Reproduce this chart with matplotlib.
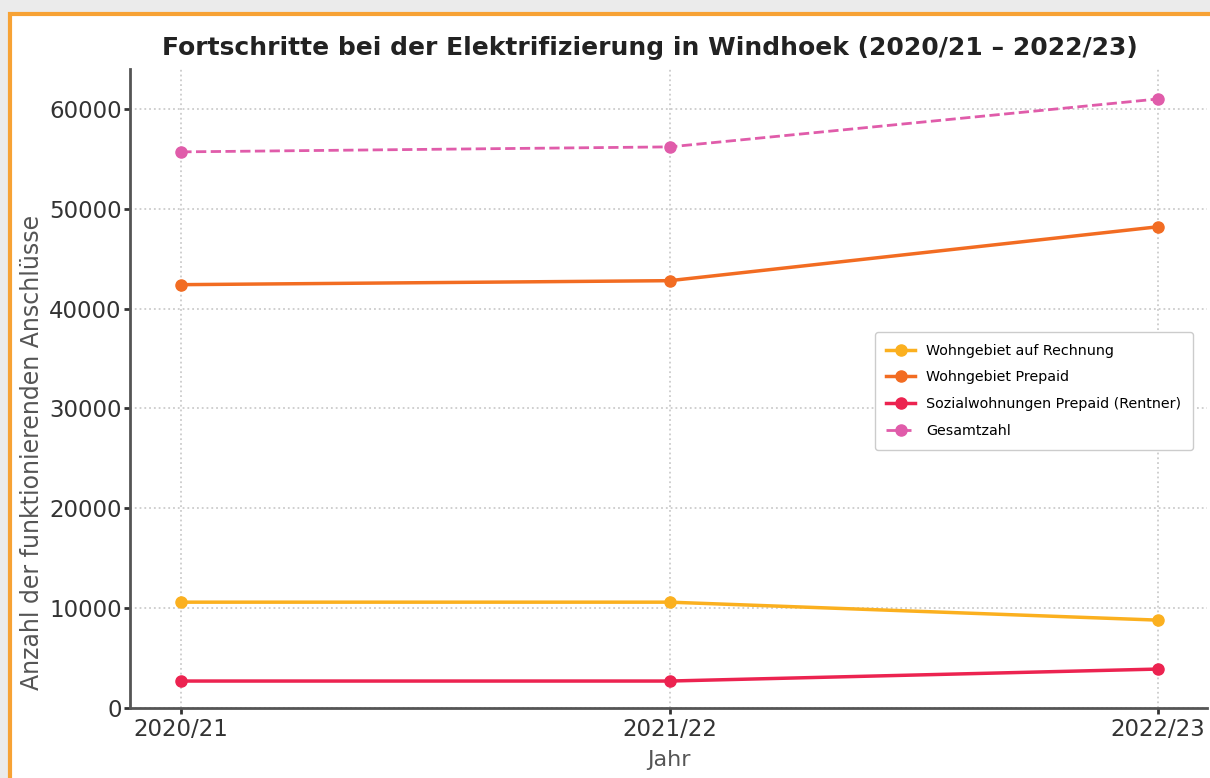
import matplotlib.pyplot as plt
from matplotlib.patches import Rectangle

jahre = ['2020/21', '2021/22', '2022/23']
rechnung = [10600, 10600, 8800]
prepaid = [42400, 42800, 48200]
sozial = [2700, 2700, 3900]
gesamt = [55700, 56200, 61000]

fig = plt.figure(figsize=(12.1, 7.78), dpi=100)
fig.patch.set_facecolor('#ebebeb')
# orange frame of the screenshot
fig.patches.append(Rectangle((10/1210, -0.1), 1.2, 1.1 - 14/778, transform=fig.transFigure,
                             facecolor='white', edgecolor='#f7a234', linewidth=3, zorder=-5))

ax = fig.add_axes([130/1210, 70/778, 1077/1210, 639/778])
ax.set_facecolor('white')

x = range(len(jahre))
ax.plot(x, rechnung, color='#fbb01f', marker='o', lw=2.5, ms=8, label='Wohngebiet auf Rechnung')
ax.plot(x, prepaid, color='#f26c22', marker='o', lw=2.5, ms=8, label='Wohngebiet Prepaid')
ax.plot(x, sozial, color='#ec2350', marker='o', lw=2.5, ms=8, label='Sozialwohnungen Prepaid (Rentner)')
ax.plot(x, gesamt, color='#e05caa', marker='o', lw=2, ms=8, ls='--', label='Gesamtzahl')

ax.set_xticks(list(x))
ax.set_xticklabels(jahre)
ax.set_xlim(-0.105, 2.1)
ax.set_ylim(0, 64000)
ax.set_yticks([0, 10000, 20000, 30000, 40000, 50000, 60000])
ax.tick_params(labelsize=16.5, colors='#333333', length=4, width=2)
ax.tick_params(axis='y', pad=2)
ax.grid(True, ls=':', color='#cccccc', lw=1.3)
for s in ['top', 'right']:
    ax.spines[s].set_visible(False)
for s in ['left', 'bottom']:
    ax.spines[s].set_color('#555555')
    ax.spines[s].set_linewidth(2)

ax.set_xlabel('Jahr', fontsize=16, color='#555555', labelpad=6)
ax.set_ylabel('Anzahl der funktionierenden Anschlüsse', fontsize=17, color='#555555')
ax.yaxis.set_label_coords(-0.08, 0.40)
fig.suptitle('Fortschritte bei der Elektrifizierung in Windhoek (2020/21 – 2022/23)',
             x=650/1210, y=1 - 48/778, va='center', fontsize=18, fontweight='semibold', color='#222222')

ax.legend(loc='upper right', bbox_to_anchor=(1200/1210, 1 - 325/778),
          bbox_transform=fig.transFigure, fontsize=10.3, framealpha=1,
          edgecolor='#cccccc', labelspacing=0.9, borderpad=0.8)

fig.savefig('out.png', dpi=100, facecolor=fig.get_facecolor())
